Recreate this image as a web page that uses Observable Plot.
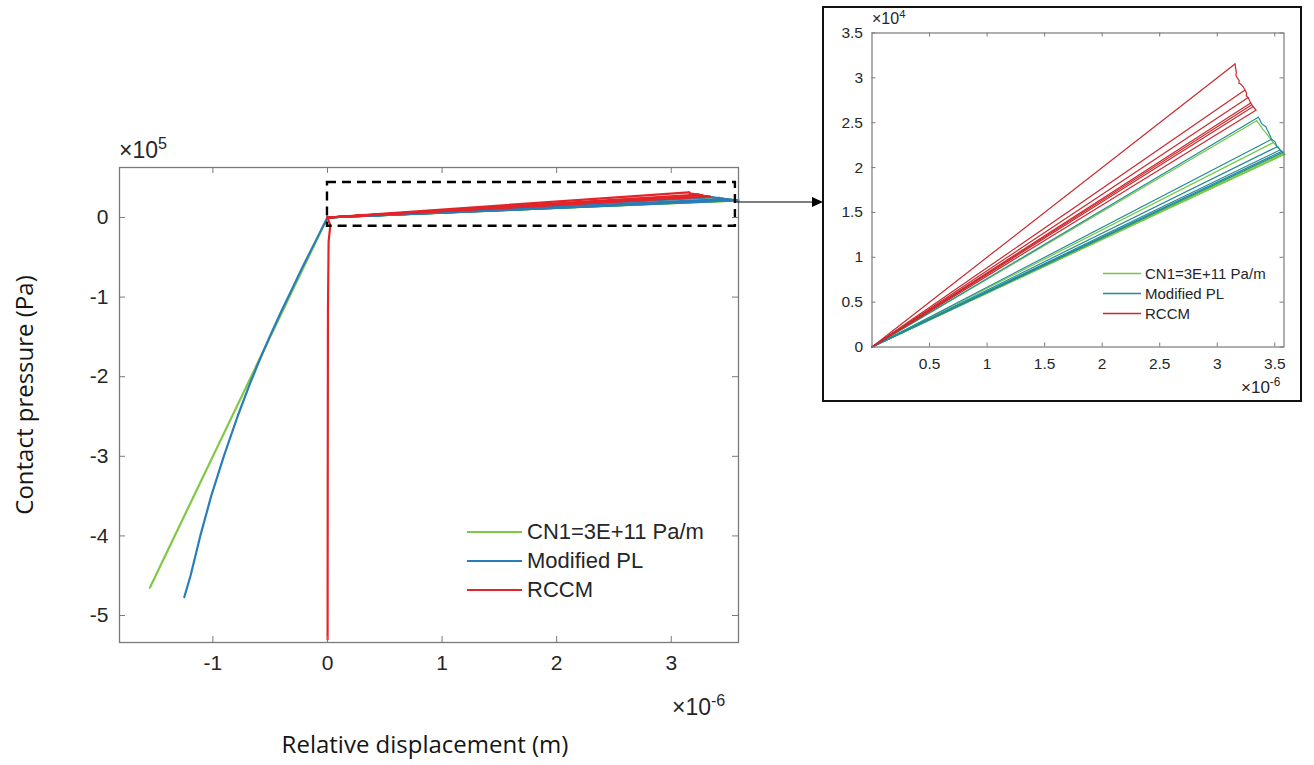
<!DOCTYPE html>
<html>
<head>
<meta charset="utf-8">
<script src="https://cdn.jsdelivr.net/npm/d3@7"></script>
<script src="https://cdn.jsdelivr.net/npm/@observablehq/plot@0.6"></script>
<style>
  body { margin: 0; background: #fff; }
  #page { position: relative; width: 1314px; height: 765px; overflow: hidden; background: #fff;
          font-family: "Liberation Sans", Arial, sans-serif; color: #262626; }
  .abs { position: absolute; white-space: nowrap; }
  .title { font-family: "Open Sans", "Noto Sans", sans-serif; color: #151515; }
  sup { font-size: 70%; vertical-align: 0; position: relative; top: -0.55em; }
  #main { position: absolute; left: 0; top: 0; width: 800px; height: 765px; }
  #inset { position: absolute; left: 822px; top: 6px; width: 480px; height: 396px;
           border: 2.5px solid #111; box-sizing: border-box; }
  #inset svg, #main svg { position: absolute; left: 0; top: 0; max-width: none; }
</style>
</head>
<body>
<div id="page">
  <div id="main"></div>
  <div id="inset"></div>
</div>
<script>
// Displacement in units of 1e-6 m, contact pressure in Pa.
const seriesNames = ["CN1=3E+11 Pa/m", "Modified PL", "RCCM"];

// Compression branch (negative relative displacement)
const cn1CompD = [0, -1.55];
const cn1CompP = [0, -465000];
const plCompD = [0, -0.105, -0.21, -0.31, -0.41, -0.505, -0.595, -0.68, -0.785, -0.905, -1.015, -1.11, -1.195, -1.25];
const plCompP = [0, -30000, -60000, -90000, -120000, -150000, -180000, -210000, -250000, -300000, -350000, -400000, -450000, -477000];
const rccmCompD = [0, 0.025, 0.01, 0.004, 0.002, 0.001];
const rccmCompP = [0, -10000, -30000, -120000, -350000, -530000];

// Tension branch: peak of each loading cycle (each cycle loads from the origin)
const originD = 0;
const originP = 0;
const cn1PeakD = [3.342, 3.487, 3.575, 3.585, 3.588];
const cn1PeakP = [25230, 22780, 21620, 21550, 21480];
const plPeakD = [3.357, 3.473, 3.521, 3.545, 3.562, 3.572];
const plPeakP = [25610, 23150, 22330, 21960, 21820, 21720];
const rccmPeakD = [3.154, 3.241, 3.269, 3.290, 3.300, 3.313, 3.336];
const rccmPeakP = [31550, 28650, 27800, 27200, 27000, 26800, 26400];

// Peak-to-peak transition traces between successive cycles
const cn1TraceD = [3.342, 3.37, 3.40, 3.43, 3.46, 3.487, 3.52, 3.55, 3.575, 3.588];
const cn1TraceP = [25230, 24750, 24200, 23750, 23250, 22780, 22300, 21950, 21620, 21480];
const plTraceD = [3.357, 3.371, 3.385, 3.400, 3.423, 3.430, 3.443, 3.473, 3.490, 3.501, 3.521, 3.530, 3.545, 3.560, 3.572];
const plTraceP = [25610, 25310, 24900, 24750, 24560, 24300, 24000, 23150, 23000, 22890, 22330, 22300, 21960, 21800, 21720];
const rccmTraceD = [3.154, 3.166, 3.162, 3.174, 3.191, 3.188, 3.205, 3.226, 3.241, 3.255, 3.252, 3.269, 3.284, 3.300, 3.313, 3.336];
const rccmTraceP = [31550, 30600, 30300, 30000, 29700, 29400, 29300, 29000, 28650, 28300, 28000, 27800, 27350, 27000, 26800, 26400];

// Region magnified in the inset
const zoomD = [0, 3.56];
const zoomP = [-11000, 44000];

// Tick values
const mainTicksX = [-1, 0, 1, 2, 3];
const mainTicksY = [0, -100000, -200000, -300000, -400000, -500000];
const insetTicksX = [0.5, 1, 1.5, 2, 2.5, 3, 3.5];
const insetTicksY = [0, 5000, 10000, 15000, 20000, 25000, 30000, 35000];

const colors = ["#80c946", "#2a7db8", "#e2252a"];
const insetColors = ["#74c83e", "#238a9a", "#c92a2e"];

// Assemble one table of polyline vertices keyed by path
function pathRows(series, name, ds, ps) {
  return ds.map((d, i) => ({series, path: series + "/" + name, d, p: ps[i]}));
}
function cycleRows(series, ds, ps) {
  return ds.flatMap((d, i) => [
    {series, path: series + "/cycle" + i, d: originD, p: originP},
    {series, path: series + "/cycle" + i, d, p: ps[i]}
  ]);
}
const rows = [
  ...pathRows(seriesNames[0], "comp", cn1CompD, cn1CompP),
  ...cycleRows(seriesNames[0], cn1PeakD, cn1PeakP),
  ...pathRows(seriesNames[0], "trace", cn1TraceD, cn1TraceP),
  ...pathRows(seriesNames[1], "comp", plCompD, plCompP),
  ...cycleRows(seriesNames[1], plPeakD, plPeakP),
  ...pathRows(seriesNames[1], "trace", plTraceD, plTraceP),
  ...pathRows(seriesNames[2], "comp", rccmCompD, rccmCompP),
  ...cycleRows(seriesNames[2], rccmPeakD, rccmPeakP),
  ...pathRows(seriesNames[2], "trace", rccmTraceD, rccmTraceP)
];
const axisGray = "#7a7a7a";

// Inward-pointing ticks on all four sides of a boxed axes
function boxTicks(tx, ty, fw, fh, len) {
  return [
    Plot.tickX(tx, {x: d => d, stroke: axisGray, insetTop: fh - len}),
    Plot.tickX(tx, {x: d => d, stroke: axisGray, insetBottom: fh - len}),
    Plot.tickY(ty, {y: d => d, stroke: axisGray, insetRight: fw - len}),
    Plot.tickY(ty, {y: d => d, stroke: axisGray, insetLeft: fw - len})
  ];
}

// Main axes
const M = {w: 800, h: 765, l: 119, r: 62, t: 167, b: 123};
const mainPlot = Plot.plot({
  width: M.w, height: M.h,
  marginLeft: M.l, marginRight: M.r, marginTop: M.t, marginBottom: M.b,
  x: {domain: [-1.815, 3.587]},
  y: {domain: [-533900, 62800]},
  color: {domain: seriesNames, range: colors},
  style: {fontFamily: "Liberation Sans, Arial, sans-serif", fontSize: "20px", color: "#262626", background: "transparent"},
  marks: [
    Plot.line(rows, {x: "d", y: "p", z: "path", stroke: "series", strokeWidth: 2.2, curve: "linear"}),
    Plot.rect([0], {x1: () => zoomD[0], x2: () => zoomD[1], y1: () => zoomP[0], y2: () => zoomP[1],
      fill: "none", stroke: "#000", strokeWidth: 2.4, strokeDasharray: "9,6"}),
    Plot.frame({stroke: axisGray, strokeWidth: 1.3}),
    ...boxTicks(mainTicksX, mainTicksY, M.w - M.l - M.r, M.h - M.t - M.b, 6),
    Plot.axisX(mainTicksX, {tickSize: 0, tickPadding: 13, label: null, tickFormat: d => String(d), fontSize: 21}),
    Plot.axisY(mainTicksY, {tickSize: 0, tickPadding: 11, label: null, tickFormat: d => String(d / 1e5), fontSize: 21})
  ]
});
document.getElementById("main").append(mainPlot);

// Inset axes
const I = {w: 475, h: 391, l: 47.5, r: 15.5, t: 24.5, b: 52.5};
const insetPlot = Plot.plot({
  width: I.w, height: I.h,
  marginLeft: I.l, marginRight: I.r, marginTop: I.t, marginBottom: I.b,
  x: {domain: [0, 3.58]},
  y: {domain: [0, 35000]},
  color: {domain: seriesNames, range: insetColors},
  style: {fontFamily: "Liberation Sans, Arial, sans-serif", fontSize: "15px", color: "#262626", background: "transparent"},
  marks: [
    Plot.line(rows.filter(r => r.d >= 0 && r.p >= 0), {x: "d", y: "p", z: "path", stroke: "series", strokeWidth: 1.2, curve: "linear"}),
    Plot.frame({stroke: axisGray, strokeWidth: 1.2}),
    ...boxTicks(insetTicksX, insetTicksY, I.w - I.l - I.r, I.h - I.t - I.b, 4),
    Plot.axisX(insetTicksX, {tickSize: 0, tickPadding: 11, label: null, tickFormat: d => String(d), fontSize: 15.5}),
    Plot.axisY(insetTicksY, {tickSize: 0, tickPadding: 9, label: null, tickFormat: d => String(d / 1e4), fontSize: 15.5})
  ]
});
document.getElementById("inset").append(insetPlot);

// Exponent labels, axis titles, legends and the connector arrow
const page = document.getElementById("page");
function addText(html, style, cls = "abs") {
  const el = document.createElement("div");
  el.className = cls;
  el.innerHTML = html;
  Object.assign(el.style, style);
  page.append(el);
  return el;
}
addText("×10<sup>5</sup>", {left: "119px", top: "137px", fontSize: "23px"});
addText("×10<sup>-6</sup>", {left: "672px", top: "694px", fontSize: "23px"});
addText("×10<sup>4</sup>", {left: "872px", top: "10px", fontSize: "16px"});
addText("×10<sup>-6</sup>", {left: "1241px", top: "378px", fontSize: "17px"});
addText("Relative displacement (m)", {left: "425px", top: "727px", fontSize: "24px", transform: "translateX(-50%)"}, "abs title");
addText("Contact pressure (Pa)", {left: "23px", top: "395px", fontSize: "24px",
  transform: "translate(-50%,-50%) rotate(-90deg)"}, "abs title");

function legend(x0, lineLen, gap, ys, fontSize, strokeWidth, cols) {
  seriesNames.forEach((name, i) => {
    addText(
      `<svg width="${lineLen}" height="6" style="margin-right:${gap}px"><line x1="0" x2="${lineLen}" y1="3" y2="3" stroke="${cols[i]}" stroke-width="${strokeWidth}"/></svg><span>${name}</span>`,
      {left: x0 + "px", top: ys[i] + "px", fontSize: fontSize + "px", lineHeight: "1", transform: "translateY(-50%)", display: "flex", alignItems: "center"});
  });
}
legend(467, 55, 5, [532, 561, 590], 22, 2.2, colors);
legend(1103, 38, 4, [273, 293, 313], 15, 1.3, insetColors);

const arrow = d3.create("svg").attr("width", 100).attr("height", 20)
  .style("position", "absolute").style("left", "732px").style("top", "192px");
arrow.append("line").attr("x1", 3).attr("x2", 82).attr("y1", 10).attr("y2", 10).attr("stroke", "#000").attr("stroke-width", 1.2);
arrow.append("path").attr("d", "M80,5 L91,10 L80,15 Z").attr("fill", "#000");
page.append(arrow.node());
</script>
</body>
</html>
